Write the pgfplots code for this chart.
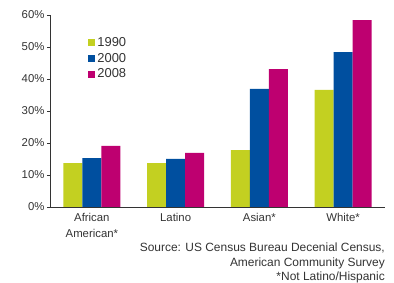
\documentclass[border=0pt]{standalone}
\usepackage{pgfplots}
\pgfplotsset{compat=1.18}
\usepackage{fontspec}
\setmainfont{Liberation Sans}
\definecolor{cA}{HTML}{C3D021}
\definecolor{cB}{HTML}{004F9F}
\definecolor{cC}{HTML}{BE0070}
\definecolor{txt}{HTML}{333333}
\begin{document}
\begin{tikzpicture}
\useasboundingbox (0,0) rectangle (394bp,283bp);
\begin{axis}[
  at={(50bp,76bp)}, anchor=south west,
  scale only axis, width=335bp, height=192bp,
  ybar=0pt, bar width=19bp,
  xmin=-0.5, xmax=3.5, ymin=0, ymax=60,
  axis x line=bottom, axis y line=left,
  axis line style={black!80, line width=0.7pt, -},
  xtick=data, xticklabels={African\\American*, Latino, Asian*, White*},
  xticklabel style={align=center, text=txt, font=\fontsize{11.4}{15.5}\selectfont},
  x tick style={draw=none},
  ytick={0,10,...,60}, yticklabel={\pgfmathprintnumber{\tick}\%},
  yticklabel style={text=txt, font=\fontsize{11.4}{12}\selectfont, xshift=1bp},
  /pgf/number format/assume math mode=true,
  y tick style={black!80}, tick align=outside, major tick length=3bp,
  legend style={draw=none, fill=none, at={(0.105,0.905)}, anchor=north west,
    font=\fontsize{13}{14}\selectfont, text=txt, row sep=1.2bp,
    /tikz/every even column/.append style={column sep=3bp}},
  legend image code/.code={\fill[#1] (0bp,-3.5bp) rectangle (7bp,3.5bp);},
  legend cell align=left,
]
\addplot[fill=cA, draw=none] coordinates {(0,13.7) (1,13.7) (2,17.8) (3,36.6)};
\addplot[fill=cB, draw=none] coordinates {(0,15.3) (1,15.0) (2,36.9) (3,48.4)};
\addplot[fill=cC, draw=none] coordinates {(0,19.1) (1,16.9) (2,43.1) (3,58.4)};
\legend{1990,2000,2008}
\end{axis}
\node[anchor=north east, align=right, text=txt, inner sep=0pt, font=\fontsize{12}{14.2}\selectfont] at (385bp,40bp) {Source: US Census Bureau Decenial Census,\\American Community Survey\\*Not Latino/Hispanic};
\end{tikzpicture}
\end{document}
